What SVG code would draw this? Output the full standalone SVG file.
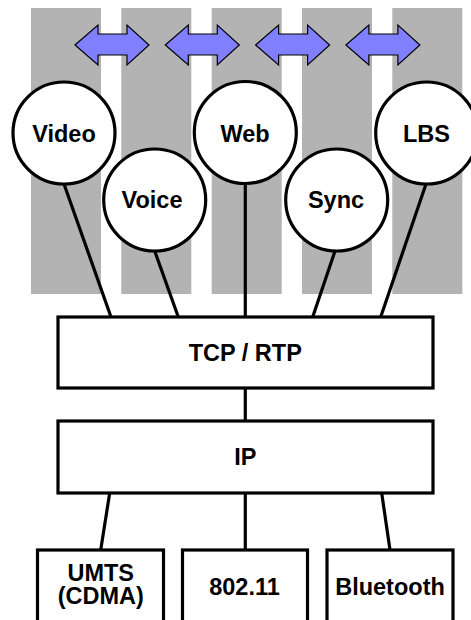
<svg xmlns="http://www.w3.org/2000/svg" width="471" height="620" viewBox="0 0 471 620">
<style>
.col{fill:#b3b3b3;stroke:none}
.arr{fill:#8080ff;stroke:#000;stroke-width:1.2;stroke-linejoin:miter}
.node{fill:#fff;stroke:#000;stroke-width:3.2}
.lbl{font-family:"Liberation Sans",Arial,sans-serif;font-weight:bold;font-size:23.5px;fill:#000;text-anchor:middle}
.conn line{stroke:#000;stroke-width:3.2}
</style>
<defs>
<path id="dblarrow" class="arr" d="M0,0 L23,-20 L23,-11 L52,-11 L52,-20 L74,0 L52,20 L52,10 L23,10 L23,20 Z"/>
</defs>
<g id="columns">
<rect class="col" x="31" y="8" width="70" height="286"/>
<rect class="col" x="121.3" y="8" width="70" height="286"/>
<rect class="col" x="211.7" y="8" width="70" height="286"/>
<rect class="col" x="302" y="8" width="70" height="286"/>
<rect class="col" x="392.3" y="8" width="70" height="286"/>
</g>
<g id="arrows">
<use href="#dblarrow" x="75" y="45"/>
<use href="#dblarrow" x="165.3" y="45"/>
<use href="#dblarrow" x="255.6" y="45"/>
<use href="#dblarrow" x="345.9" y="45"/>
</g>
<g class="conn" id="connectors">
<line x1="64" y1="184" x2="111" y2="317"/>
<line x1="154.7" y1="251" x2="178.3" y2="317"/>
<line x1="245.3" y1="183" x2="245.3" y2="317"/>
<line x1="335" y1="251" x2="312.7" y2="317"/>
<line x1="426" y1="184" x2="380.7" y2="317"/>
<line x1="245.3" y1="388" x2="245.3" y2="421"/>
<line x1="109.7" y1="493" x2="100.7" y2="550"/>
<line x1="245.3" y1="493" x2="245.3" y2="550"/>
<line x1="381.7" y1="493" x2="390" y2="550"/>
</g>
<g id="video"><circle class="node" cx="64" cy="133" r="51"/><text class="lbl" x="64" y="141.5">Video</text></g>
<g id="voice"><circle class="node" cx="154.7" cy="200" r="51"/><text class="lbl" x="152" y="207.5">Voice</text></g>
<g id="web"><circle class="node" cx="245.3" cy="132.5" r="51"/><text class="lbl" x="245" y="141.5">Web</text></g>
<g id="sync"><circle class="node" cx="336.7" cy="200" r="51"/><text class="lbl" x="336" y="207.5">Sync</text></g>
<g id="lbs"><circle class="node" cx="426.7" cy="133" r="51"/><text class="lbl" x="426.5" y="141.5">LBS</text></g>
<g id="tcp"><rect class="node" x="58" y="317" width="375" height="71"/><text class="lbl" x="245.3" y="361">TCP / RTP</text></g>
<g id="ip"><rect class="node" x="58" y="421" width="375" height="72"/><text class="lbl" x="245.3" y="465">IP</text></g>
<g id="umts"><rect class="node" x="37.5" y="550" width="126" height="90"/><text class="lbl" x="100.7" y="580.5">UMTS</text><text class="lbl" x="100.7" y="604">(CDMA)</text></g>
<g id="wifi"><rect class="node" x="182.5" y="550" width="125" height="90"/><text class="lbl" x="244.5" y="595">802.11</text></g>
<g id="bluetooth"><rect class="node" x="327" y="550" width="126" height="90"/><text class="lbl" x="390" y="595">Bluetooth</text></g>
</svg>
